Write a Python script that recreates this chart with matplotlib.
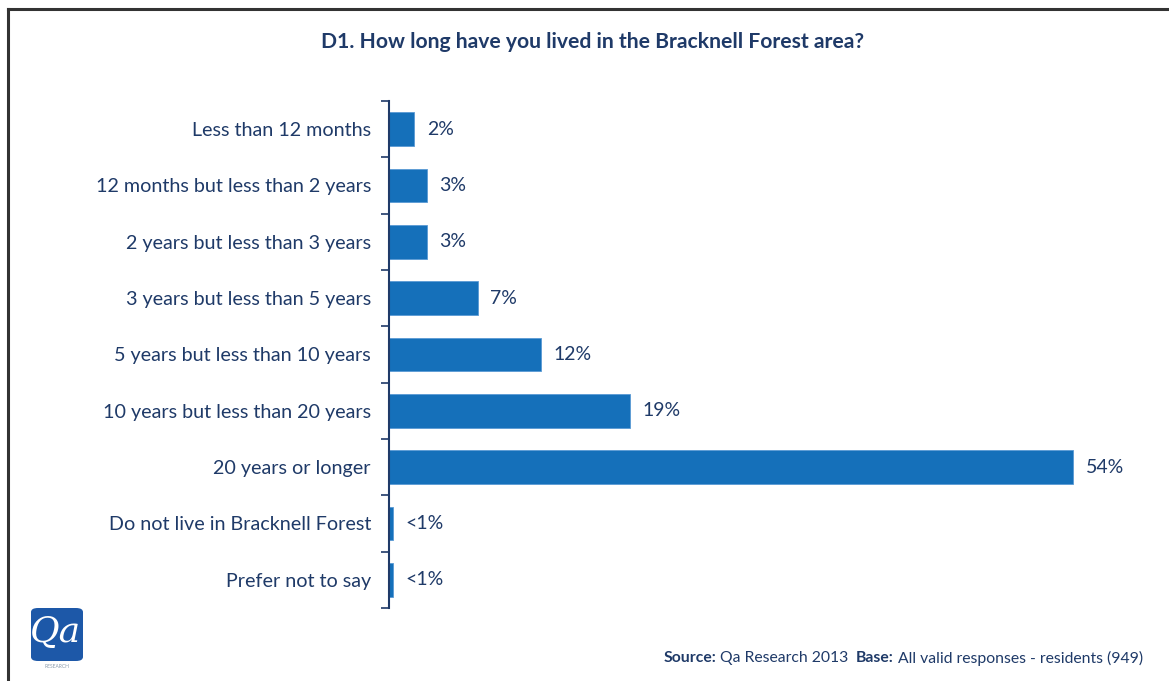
import matplotlib.pyplot as plt
from matplotlib.patches import FancyBboxPatch
from matplotlib.lines import Line2D

plt.rcParams['font.family'] = ['Lato', 'DejaVu Sans']

categories = ['Less than 12 months', '12 months but less than 2 years',
              '2 years but less than 3 years', '3 years but less than 5 years',
              '5 years but less than 10 years', '10 years but less than 20 years',
              '20 years or longer', 'Do not live in Bracknell Forest',
              'Prefer not to say']
values = [2, 3, 3, 7, 12, 19, 54, 0.3, 0.3]
labels = ['2%', '3%', '3%', '7%', '12%', '19%', '54%', '<1%', '<1%']

navy = '#1f3a68'
bar_blue = '#1570ba'

fig = plt.figure(figsize=(11.69, 6.81), dpi=100)
W, H = 1169, 681

# outer frame (top and left edges)
fig.add_artist(Line2D([8 / W, 1], [1 - 9 / H, 1 - 9 / H], color='#333333', lw=2.2))
fig.add_artist(Line2D([8 / W, 8 / W], [0, 1 - 9 / H], color='#333333', lw=2.2))

ax = fig.add_axes([389 / W, 1 - 608 / H, 751 / W, 507 / H])
y = list(range(len(categories)))
ax.barh(y, values, height=0.6, color=bar_blue, edgecolor='#5a9ad4', linewidth=0.6)
ax.set_xlim(0, 751 / 12.67)
ax.set_ylim(len(categories) - 0.5, -0.5)

for yi, v, lab in zip(y, values, labels):
    ax.annotate(lab, (v, yi), xytext=(9, 0), textcoords='offset points',
                va='center', ha='left', fontsize=14, color=navy)

ax.set_yticks(y)
ax.set_yticklabels(categories, fontsize=14.2, color=navy)
ax.set_yticks([i + 0.5 for i in range(-1, len(categories))], minor=True)
ax.tick_params(axis='y', which='major', length=0, pad=13)
ax.tick_params(axis='y', which='minor', length=5.5, width=1.2, color=navy)
ax.set_xticks([])
for s in ['top', 'right', 'bottom']:
    ax.spines[s].set_visible(False)
ax.spines['left'].set_color(navy)
ax.spines['left'].set_linewidth(1.5)

fig.text(593 / W, 1 - 42 / H, 'D1. How long have you lived in the Bracknell Forest area?',
         ha='center', va='center', fontsize=15.2, fontweight='bold', color=navy)

# logo
logo = FancyBboxPatch((31 / W, 1 - 661 / H), 52 / W, 53 / H,
                      boxstyle='round,pad=0,rounding_size=0.006',
                      transform=fig.transFigure, facecolor='#1d58a8', edgecolor='none')
fig.add_artist(logo)
fig.text(55 / W, 1 - 632 / H, 'Qa', ha='center', va='center', fontsize=26,
         style='italic', family='DejaVu Serif', color='white')
fig.text(57 / W, 1 - 667 / H, 'RESEARCH', ha='center', va='center', fontsize=3.5,
         color='#8899aa')

# source line, right aligned
fig.canvas.draw()
r = fig.canvas.get_renderer()
pieces = [('Source:', 'bold'), (' Qa Research 2013  ', 'normal'),
          ('Base:', 'bold'), (' All valid responses - residents (949)', 'normal')]
x = 1143
for txt, wt in reversed(pieces):
    t = fig.text(x / W, 1 - 658 / H, txt, ha='right', va='center', fontsize=11.3,
                 fontweight=wt, color=navy)
    x -= t.get_window_extent(r).width

fig.savefig('out.png', dpi=100)
